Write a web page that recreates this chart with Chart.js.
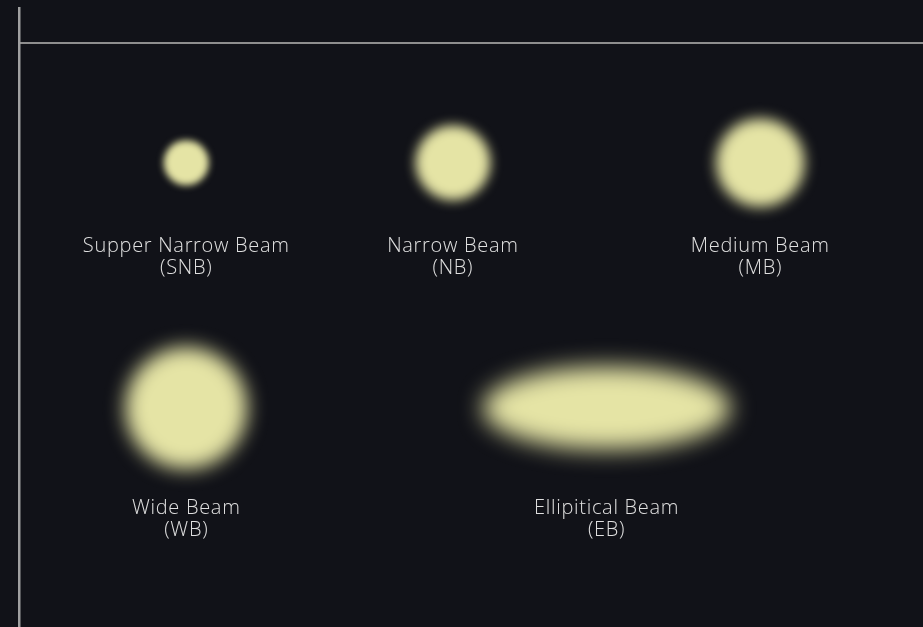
<!DOCTYPE html>
<html>
<head>
<meta charset="utf-8">
<script src="https://cdn.jsdelivr.net/npm/chart.js@4.4.1/dist/chart.umd.min.js"></script>
<style>
  html, body { margin: 0; background: #111218; }
  canvas { display: block; }
</style>
</head>
<body>
<canvas id="beamChart" width="923" height="627"></canvas>
<script>
const beamNames = ['Supper Narrow Beam', 'Narrow Beam', 'Medium Beam', 'Wide Beam', 'Ellipitical Beam'];
const beamCodes = ['SNB', 'NB', 'MB', 'WB', 'EB'];
const beamX = [18.5, 48, 82, 18.5, 65];
const beamY = [20.5, 20.5, 20.5, 62.5, 62.5];
const spotWidth = [5.0, 8.3, 9.8, 13.5, 27.4];
const spotHeight = [5.0, 8.3, 9.8, 13.5, 9.2];

const colors = {
  bg: '#111218',
  spot: '#e5e4a5',
  text: '#e0e0e0',
  axis: '#a0a0a0',
};

/* Beams — blurred spots with labels under each row */
const beamPlugin = {
  id: 'beams',
  afterDatasetsDraw(chart) {
    const { ctx, scales: { x } } = chart;
    const meta = chart.getDatasetMeta(0);
    const unit = Math.abs(x.getPixelForValue(1) - x.getPixelForValue(0));

    const rowDepth = {};
    beamY.forEach((row, i) => {
      rowDepth[row] = Math.max(rowDepth[row] || 0, spotHeight[i] * unit / 2);
    });

    meta.data.forEach((pt, i) => {
      const rx = spotWidth[i] * unit / 2;
      const ry = spotHeight[i] * unit / 2;
      const blur = 0.16 * Math.sqrt(rx * ry);

      ctx.save();
      ctx.filter = `blur(${blur}px)`;
      ctx.fillStyle = colors.spot;
      ctx.beginPath();
      ctx.ellipse(pt.x, pt.y, rx, ry, 0, 0, Math.PI * 2);
      ctx.fill();
      ctx.restore();

      const ty = pt.y + rowDepth[beamY[i]] + 39;
      ctx.save();
      ctx.fillStyle = colors.text;
      ctx.font = "300 20px 'Open Sans', sans-serif";
      ctx.letterSpacing = '0.7px';
      ctx.textAlign = 'center';
      ctx.textBaseline = 'middle';
      ctx.fillText(beamNames[i], pt.x, ty);
      ctx.fillText(`(${beamCodes[i]})`, pt.x, ty + 22);
      ctx.restore();
    });
  },
};

new Chart(document.getElementById('beamChart'), {
  type: 'scatter',
  data: {
    datasets: [{
      data: beamX.map((v, i) => ({ x: v, y: beamY[i] })),
      pointRadius: 0,
      pointHoverRadius: 0,
    }],
  },
  options: {
    responsive: false,
    animation: false,
    events: [],
    layout: { padding: { left: 19, top: 8, right: 0, bottom: 0 } },
    plugins: { legend: { display: false }, tooltip: { enabled: false } },
    scales: {
      x: {
        type: 'linear',
        min: 0,
        max: 100,
        position: { y: 0 },
        grid: { display: false },
        ticks: { display: false },
        border: { display: true, color: '#8e8e8e', width: 2 },
        afterFit: (s) => { s.height = 0; },
      },
      y: {
        type: 'linear',
        reverse: true,
        min: -6,
        max: 100,
        grid: { display: false },
        ticks: { display: false },
        border: { display: true, color: colors.axis, width: 2.5 },
        afterFit: (s) => { s.width = 0; },
      },
    },
  },
  plugins: [beamPlugin],
});
</script>
</body>
</html>
